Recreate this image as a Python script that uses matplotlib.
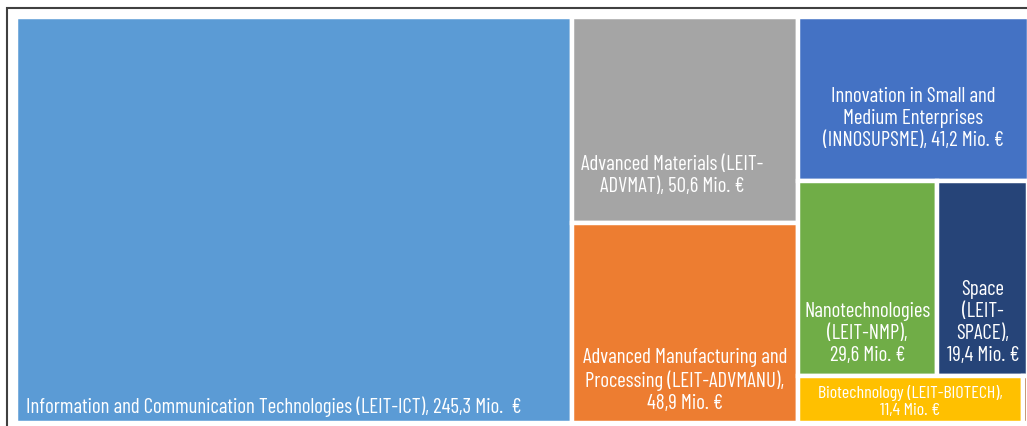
import matplotlib
matplotlib.use("Agg")
import matplotlib.pyplot as plt
from matplotlib.patches import Rectangle

plt.rcParams['font.family'] = ['Barlow Condensed', 'DejaVu Sans']

# data (Mio. EUR)
names = ["Information and Communication Technologies (LEIT-ICT)",
         "Advanced Materials (LEIT-ADVMAT)",
         "Advanced Manufacturing and Processing (LEIT-ADVMANU)",
         "Innovation in Small and Medium Enterprises (INNOSUPSME)",
         "Nanotechnologies (LEIT-NMP)",
         "Space (LEIT-SPACE)",
         "Biotechnology (LEIT-BIOTECH)",
         "Other"]
values = [245.3, 50.6, 48.9, 41.2, 29.6, 19.4, 11.4, 0.3]
labels = ["Information and Communication Technologies (LEIT-ICT), 245,3 Mio.  €",
          "Advanced Materials (LEIT-\nADVMAT), 50,6 Mio. €",
          "Advanced Manufacturing and\nProcessing (LEIT-ADVMANU),\n48,9 Mio. €",
          "Innovation in Small and\nMedium Enterprises\n(INNOSUPSME), 41,2 Mio. €",
          "Nanotechnologies\n(LEIT-NMP),\n29,6 Mio. €",
          "Space\n(LEIT-\nSPACE),\n19,4 Mio. €",
          "Biotechnology (LEIT-BIOTECH),\n11,4 Mio. €",
          ""]
colors = ["#5B9BD5", "#A5A5A5", "#ED7D31", "#4472C4",
          "#70AD47", "#264478", "#FFC000", "#9E480E"]

# treemap structure: columns -> rows -> item indices
layout = [[[0]], [[1], [2]], [[3], [4, 5], [6, 7]]]

# label placement: (anchor, ha, dx px, dy px, fontsize)
label_pos = {0: ("bl", "left", 10, 6, 15),
             1: ("bc", "center", -13, 27, 15),
             2: ("bc", "center", 0, 10, 15),
             3: ("c", "center", 0, -19, 15),
             4: ("bc", "center", 0, 11, 15),
             5: ("bc", "center", 0, 11, 15),
             6: ("c", "center", 0, -2, 13)}

W, H = 1027, 426
fig = plt.figure(figsize=(W / 100, H / 100), dpi=100)
total = sum(values)
left_px, right_px, top_px, bot_px = 16, 1028.5, 17, 423
ax = fig.add_axes([left_px / W, 1 - bot_px / H, (right_px - left_px) / W, (bot_px - top_px) / H])
ax.set_xlim(0, total)
ax.set_ylim(0, 1)
ax.axis("off")

rects = {}
x0 = 0
for col in layout:
    col_total = sum(values[i] for row in col for i in row)
    y_top = 1.0
    for row in col:
        row_total = sum(values[i] for i in row)
        h = row_total / col_total
        xx = x0
        for i in row:
            w = col_total * values[i] / row_total
            rects[i] = (xx, y_top - h, w, h)
            ax.add_patch(Rectangle((xx, y_top - h), w, h, facecolor=colors[i],
                                   edgecolor="white", linewidth=3.2, clip_on=False))
            xx += w
        y_top -= h
    x0 += col_total

px = 72 / 100  # points per pixel
for i, (anchor, ha, dx, dy, fs) in label_pos.items():
    x, y, w, h = rects[i]
    if anchor == "bl":
        xy, va = (x, y), "bottom"
    elif anchor == "bc":
        xy, va = (x + w / 2, y), "bottom"
    else:
        xy, va = (x + w / 2, y + h / 2), "center"
    ax.annotate(labels[i], xy=xy, xytext=(dx * px, dy * px), textcoords="offset points",
                ha=ha, va=va, multialignment="center", color="white",
                fontsize=fs, linespacing=1.2, annotation_clip=False)

# outer chart frame
fig.add_artist(Rectangle((7 / W, -0.1), 1.2, 1.1 - 7.5 / H, transform=fig.transFigure,
                         fill=False, edgecolor="#404040", linewidth=1.5))

fig.savefig("out.png", dpi=100)
